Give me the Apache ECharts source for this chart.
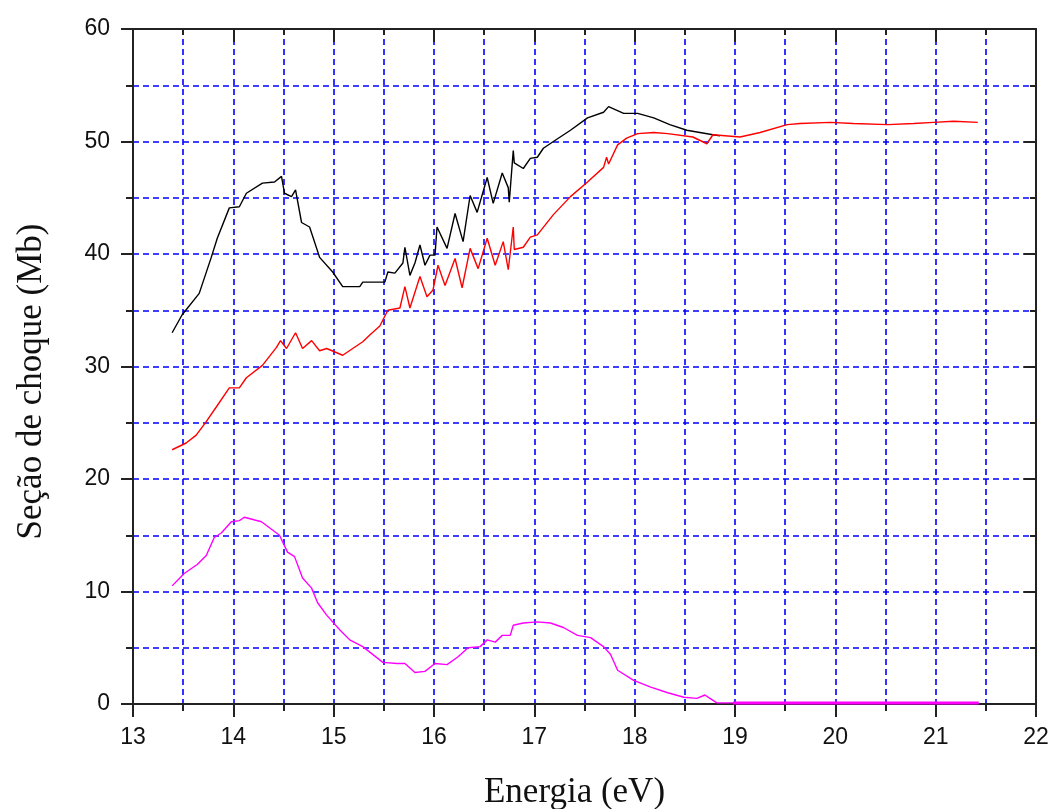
<!DOCTYPE html>
<html>
<head>
<meta charset="utf-8">
<script src="https://cdn.jsdelivr.net/npm/echarts@6/dist/echarts.min.js"></script>
<style>
  html, body { margin: 0; padding: 0; background: #fff; }
  #crossChart { width: 1054px; height: 809px; }
</style>
</head>
<body>
<div id="crossChart"></div>
<script>
// Energia (eV) / seção de choque (Mb)
const blackX = [13.39, 13.49, 13.66, 13.78, 13.84, 13.96, 14.06, 14.13, 14.29, 14.41, 14.48, 14.51, 14.58, 14.62, 14.68, 14.76, 14.86, 14.99, 15.09, 15.26, 15.29, 15.51, 15.54, 15.61, 15.69, 15.71, 15.76, 15.81, 15.86, 15.91, 15.96, 16.01, 16.03, 16.13, 16.21, 16.29, 16.36, 16.43, 16.53, 16.59, 16.68, 16.74, 16.75, 16.79, 16.80, 16.89, 16.96, 17.03, 17.09, 17.19, 17.36, 17.53, 17.69, 17.74, 17.89, 18.03, 18.19, 18.35, 18.52, 18.65, 18.78, 18.85];
const blackY = [33.0, 34.6, 36.5, 39.7, 41.4, 44.1, 44.2, 45.4, 46.3, 46.4, 46.9, 45.4, 45.1, 45.7, 42.8, 42.4, 39.7, 38.4, 37.1, 37.1, 37.5, 37.5, 38.4, 38.3, 39.2, 40.6, 38.1, 39.2, 40.8, 39.0, 39.9, 39.9, 42.4, 40.5, 43.6, 41.1, 45.2, 43.7, 46.8, 44.5, 47.2, 45.9, 44.6, 49.2, 48.1, 47.6, 48.5, 48.6, 49.4, 50.0, 51.0, 52.1, 52.6, 53.1, 52.5, 52.5, 52.1, 51.5, 51.0, 50.8, 50.6, 50.5];

const redX = [13.39, 13.53, 13.63, 13.73, 13.83, 13.96, 14.06, 14.13, 14.29, 14.43, 14.47, 14.53, 14.62, 14.69, 14.78, 14.86, 14.93, 15.09, 15.19, 15.29, 15.36, 15.46, 15.54, 15.66, 15.71, 15.76, 15.86, 15.93, 15.99, 16.04, 16.11, 16.21, 16.28, 16.36, 16.44, 16.53, 16.61, 16.69, 16.74, 16.79, 16.80, 16.89, 16.96, 17.03, 17.19, 17.36, 17.53, 17.69, 17.72, 17.74, 17.83, 17.92, 18.03, 18.19, 18.33, 18.58, 18.72, 18.78, 19.05, 19.25, 19.52, 19.65, 19.95, 20.18, 20.52, 20.78, 20.98, 21.18, 21.42];
const redY = [22.6, 23.2, 23.9, 25.1, 26.4, 28.1, 28.1, 29.0, 30.1, 31.7, 32.3, 31.6, 33.0, 31.6, 32.3, 31.4, 31.6, 31.0, 31.6, 32.2, 32.8, 33.6, 35.0, 35.2, 37.1, 35.2, 38.0, 36.2, 36.8, 39.0, 37.2, 39.6, 37.0, 40.5, 38.7, 41.4, 39.0, 41.1, 38.6, 42.4, 40.4, 40.6, 41.5, 41.7, 43.5, 45.1, 46.4, 47.7, 48.6, 48.0, 49.7, 50.3, 50.7, 50.8, 50.7, 50.4, 49.8, 50.6, 50.4, 50.8, 51.5, 51.6, 51.7, 51.6, 51.5, 51.6, 51.7, 51.8, 51.7];

const pinkX = [13.39, 13.51, 13.64, 13.73, 13.81, 13.88, 13.98, 14.06, 14.11, 14.28, 14.46, 14.54, 14.61, 14.69, 14.78, 14.84, 14.93, 15.06, 15.16, 15.29, 15.49, 15.63, 15.71, 15.81, 15.91, 16.01, 16.13, 16.24, 16.34, 16.46, 16.53, 16.61, 16.68, 16.76, 16.79, 16.89, 17.03, 17.16, 17.29, 17.43, 17.56, 17.69, 17.76, 17.83, 17.99, 18.16, 18.33, 18.49, 18.62, 18.70, 18.75, 18.82, 18.98];
const pinkY = [10.5, 11.6, 12.4, 13.2, 14.8, 15.2, 16.2, 16.3, 16.6, 16.2, 15.0, 13.5, 13.1, 11.2, 10.3, 9.0, 7.9, 6.6, 5.7, 5.1, 3.7, 3.6, 3.6, 2.8, 2.9, 3.6, 3.5, 4.2, 5.0, 5.1, 5.7, 5.5, 6.1, 6.1, 7.0, 7.2, 7.3, 7.2, 6.8, 6.1, 5.9, 5.1, 4.4, 3.0, 2.1, 1.5, 1.0, 0.6, 0.5, 0.8, 0.5, 0.1, 0.1];

const tailX = [18.98, 21.43];
const tailY = [0.1, 0.1];

function pairs(xs, ys) {
    return xs.map((x, i) => [x, ys[i]]);
}

function initCrossChart() {
    const chartDom = document.getElementById('crossChart');
    const chart = echarts.init(chartDom);

    const gridDash = { color: '#0000ff', width: 1.6, type: [6, 4] };
    const axisLine = { show: true, onZero: false, lineStyle: { color: '#222', width: 2 } };
    const tickFont = { color: '#111', fontSize: 23, fontFamily: 'Liberation Sans, Arial, sans-serif' };
    const titleFont = { color: '#111', fontSize: 35, fontFamily: 'Liberation Serif, Times New Roman, serif' };

    const line = (data, color, width) => ({
        type: 'line',
        data: data,
        showSymbol: false,
        animation: false,
        lineStyle: { color: color, width: width },
        z: 3
    });

    const option = {
        backgroundColor: '#fff',
        // sem ajuste automático: o título de baixo fica cortado como no original
        grid: { left: 133, right: 18, top: 29, bottom: 105, outerBoundsMode: 'none' },
        xAxis: [{
            type: 'value',
            min: 13, max: 22, interval: 1,
            name: 'Energia (eV)',
            nameLocation: 'middle',
            nameGap: 71,
            nameTextStyle: Object.assign({ padding: [0, 20, 0, 0] }, titleFont),
            axisLine: axisLine,
            axisTick: { show: true, length: 13, lineStyle: { color: '#222', width: 2 } },
            minorTick: { show: true, splitNumber: 2, length: 7, lineStyle: { color: '#222', width: 2 } },
            axisLabel: Object.assign({ margin: 22 }, tickFont),
            splitLine: { show: true, lineStyle: gridDash },
            minorSplitLine: { show: true, lineStyle: gridDash }
        }, {
            type: 'value',
            position: 'top',
            min: 13, max: 22, interval: 1,
            axisLine: axisLine,
            axisTick: { show: true, inside: true, length: 13, lineStyle: { color: '#222', width: 2 } },
            minorTick: { show: true, splitNumber: 2, length: 6, lineStyle: { color: '#222', width: 2 } },
            axisLabel: { show: false },
            splitLine: { show: false }
        }],
        yAxis: [{
            type: 'value',
            min: 0, max: 60, interval: 10,
            name: 'Seção de choque (Mb)',
            nameLocation: 'middle',
            nameGap: 84,
            nameTextStyle: Object.assign({ padding: [0, 30, 0, 0] }, titleFont),
            axisLine: axisLine,
            axisTick: { show: true, length: 12, lineStyle: { color: '#222', width: 2 } },
            minorTick: { show: true, splitNumber: 2, length: 7, lineStyle: { color: '#222', width: 2 } },
            axisLabel: Object.assign({ margin: 23 }, tickFont),
            splitLine: { show: true, lineStyle: gridDash },
            minorSplitLine: { show: true, lineStyle: gridDash }
        }, {
            type: 'value',
            position: 'right',
            min: 0, max: 60, interval: 10,
            axisLine: axisLine,
            axisTick: { show: true, inside: true, length: 12, lineStyle: { color: '#222', width: 2 } },
            minorTick: { show: true, splitNumber: 2, length: 6, lineStyle: { color: '#222', width: 2 } },
            axisLabel: { show: false },
            splitLine: { show: false }
        }],
        series: [
            line(pairs(pinkX, pinkY), '#ff00ff', 1.4),
            line(pairs(tailX, tailY), '#ff00ff', 3),
            line(pairs(blackX, blackY), '#000000', 1.4),
            line(pairs(redX, redY), '#ff0000', 1.4)
        ]
    };

    chart.setOption(option);
    window.addEventListener('resize', chart.resize);
}

document.addEventListener('DOMContentLoaded', function () {
    if (typeof echarts !== 'undefined') {
        initCrossChart();
    }
});
</script>
</body>
</html>
